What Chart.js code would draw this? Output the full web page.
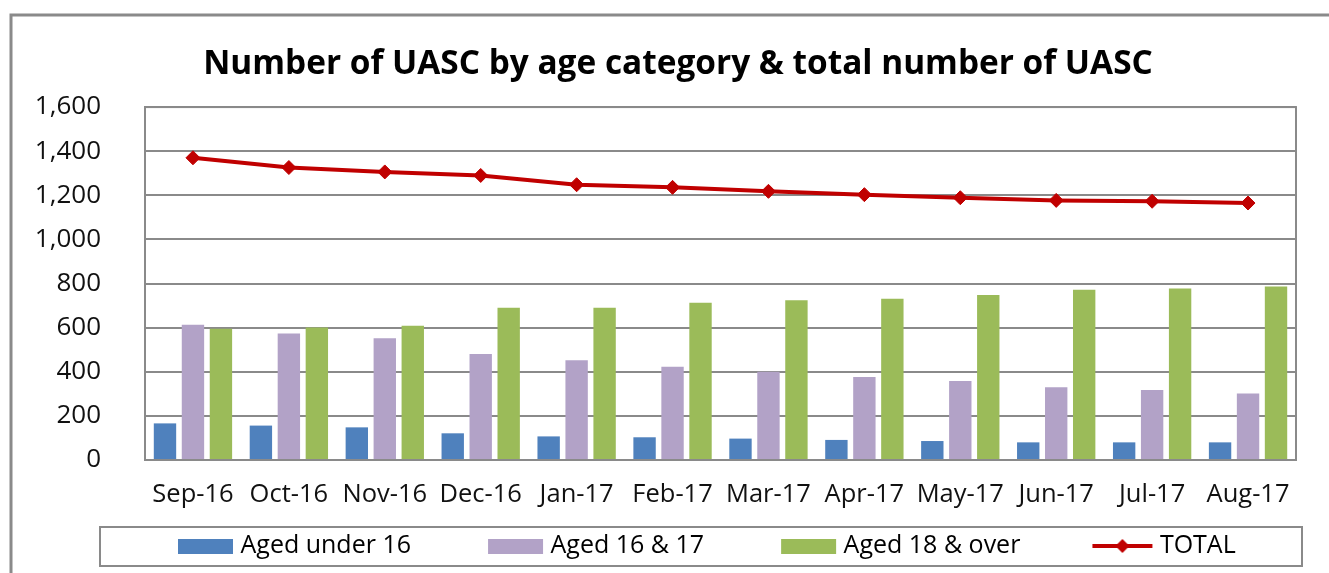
<!DOCTYPE html>
<html>
<head>
<meta charset="utf-8">
<script src="https://cdn.jsdelivr.net/npm/chart.js@4.4.1/dist/chart.umd.min.js"></script>
<style>
  html, body { margin: 0; padding: 0; background: #fff; }
  #wrap { width: 1329px; height: 573px; }
</style>
</head>
<body>
<div id="wrap"><canvas id="grafico-uasc" width="1329" height="573"></canvas></div>
<script>
// dados
const meses = ['Sep-16', 'Oct-16', 'Nov-16', 'Dec-16', 'Jan-17', 'Feb-17', 'Mar-17', 'Apr-17', 'May-17', 'Jun-17', 'Jul-17', 'Aug-17'];
const menos16 = [166, 156, 148, 121, 107, 103, 97, 91, 86, 80, 80, 80];
const idade16e17 = [613, 574, 552, 481, 452, 423, 400, 376, 358, 330, 317, 301];
const mais18 = [595, 601, 609, 690, 690, 713, 724, 731, 748, 772, 777, 787];
const total = [1370, 1326, 1306, 1290, 1248, 1236, 1218, 1203, 1189, 1177, 1173, 1165];
const yTicks = [0, 200, 400, 600, 800, 1000, 1200, 1400, 1600];

const fonte = 'Open Sans';
const corGrade = '#8a8a8a';
const tamLegenda = 25;

// ícones da legenda (área transparente à esquerda para espaçar os itens)
const LARG_ICONE = 119;
function iconeBarra(cor) {
    const c = document.createElement('canvas');
    c.width = LARG_ICONE + 12; c.height = 15;
    const g = c.getContext('2d');
    g.fillStyle = cor;
    g.fillRect(c.width - 56, 0, 55, 15);
    return c;
}
function iconeLinha(cor) {
    const c = document.createElement('canvas');
    c.width = LARG_ICONE + 12; c.height = 16;
    const g = c.getContext('2d');
    const x0 = c.width - 61, x1 = c.width - 1, cx = (x0 + x1) / 2;
    g.strokeStyle = cor; g.lineWidth = 4;
    g.beginPath(); g.moveTo(x0, 8); g.lineTo(x1, 8); g.stroke();
    g.fillStyle = cor;
    g.beginPath(); g.moveTo(cx, 1); g.lineTo(cx + 7, 8); g.lineTo(cx, 15); g.lineTo(cx - 7, 8); g.closePath(); g.fill();
    return c;
}

// moldura do gráfico, borda da área de plotagem e caixa da legenda
const molduras = {
    id: 'molduras',
    beforeDraw(chart) {
        const lg = chart.legend;
        lg.left = 101;
        lg.top = 546 - lg.options.labels.padding - tamLegenda / 2;
        // título centrado sobre a área útil, como no original
        chart.titleBlock.left = 60;
        chart.titleBlock.right = 1296;
    },
    afterDraw(chart) {
        const ctx = chart.ctx;
        const a = chart.chartArea;
        ctx.save();
        ctx.strokeStyle = corGrade;
        ctx.lineWidth = 2;
        ctx.strokeRect(a.left, a.top, a.right - a.left, a.bottom - a.top);
        ctx.lineWidth = 3;
        ctx.beginPath();
        ctx.moveTo(11, 573); ctx.lineTo(11, 15); ctx.lineTo(1329, 15);
        ctx.stroke();
        ctx.lineWidth = 2;
        ctx.strokeRect(100, 527, 1202, 39);
        ctx.restore();
    }
};

const ctx = document.getElementById('grafico-uasc').getContext('2d');
window.graficoUasc = new Chart(ctx, {
    type: 'bar',
    data: {
        labels: meses,
        datasets: [
            {
                type: 'line',
                label: 'TOTAL',
                data: total,
                borderColor: '#C00000',
                backgroundColor: '#C00000',
                borderWidth: 4,
                pointStyle: 'rectRot',
                pointRadius: 7,
                pointBorderWidth: 1,
                tension: 0,
                order: 0,
                legendIcon: iconeLinha('#C00000')
            },
            { label: 'Aged under 16', data: menos16, backgroundColor: '#4F81BD', order: 1, legendIcon: iconeBarra('#4F81BD') },
            { label: 'Aged 16 & 17', data: idade16e17, backgroundColor: '#B2A2C7', order: 1, legendIcon: iconeBarra('#B2A2C7') },
            { label: 'Aged 18 & over', data: mais18, backgroundColor: '#9BBB59', order: 1, legendIcon: iconeBarra('#9BBB59') }
        ]
    },
    options: {
        responsive: false,
        animation: false,
        devicePixelRatio: 1,
        categoryPercentage: 0.875,
        barPercentage: 0.8,
        layout: { padding: { top: 0, left: 0, right: 33, bottom: 5 } },
        plugins: {
            title: {
                display: true,
                text: 'Number of UASC by age category & total number of UASC',
                color: '#000',
                font: { family: fonte, size: 33.4, weight: 'bold' },
                padding: { top: 44, bottom: 23 }
            },
            legend: {
                position: 'bottom',
                align: 'start',
                labels: {
                    usePointStyle: true,
                    pointStyleWidth: LARG_ICONE,
                    padding: 8,
                    color: '#000',
                    font: { family: fonte, size: tamLegenda },
                    generateLabels(chart) {
                        const ordem = [1, 2, 3, 0];
                        return ordem.map(i => {
                            const ds = chart.data.datasets[i];
                            return {
                                text: ds.label,
                                pointStyle: ds.legendIcon,
                                fillStyle: ds.backgroundColor,
                                strokeStyle: ds.backgroundColor,
                                lineWidth: 0,
                                hidden: false,
                                datasetIndex: i
                            };
                        });
                    }
                }
            },
            tooltip: { enabled: false }
        },
        scales: {
            x: {
                grid: { display: false, drawTicks: false },
                border: { display: true, color: corGrade, width: 2 },
                ticks: { color: '#111', font: { family: fonte, size: 25.5 }, padding: 19, maxRotation: 0 },
                afterFit(s) { s.height = s.chart.height - 5 - s.chart.legend.height - 460; }
            },
            y: {
                min: 0,
                max: 1600,
                afterBuildTicks(s) { s.ticks = yTicks.map(v => ({ value: v })); },
                grid: { color: corGrade, lineWidth: 2, drawTicks: false },
                border: { display: true, color: corGrade, width: 2 },
                ticks: {
                    color: '#111',
                    font: { family: fonte, size: 26 },
                    padding: 44,
                    callback: v => v.toLocaleString('en-US')
                },
                afterFit(s) { s.width = 145; }
            }
        }
    },
    plugins: [molduras]
});
</script>
</body>
</html>
